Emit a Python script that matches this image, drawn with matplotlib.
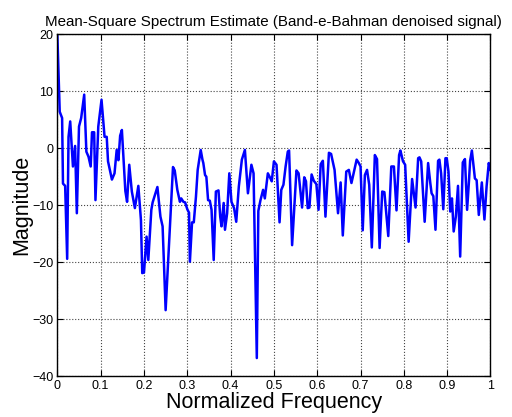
import matplotlib
matplotlib.use("Agg")
from matplotlib import pyplot as plt

plt.rcParams['font.family'] = ['Liberation Sans', 'DejaVu Sans']

# normalized frequency and magnitude
freq = [0.0, 0.0055, 0.011, 0.013, 0.018, 0.0227, 0.0258, 0.0297, 0.036, 0.041,
        0.045, 0.05, 0.055, 0.062, 0.067, 0.072, 0.077, 0.08, 0.085, 0.088,
        0.0945, 0.102, 0.109, 0.114, 0.117, 0.126, 0.132, 0.137, 0.141, 0.145,
        0.149, 0.157, 0.161, 0.166, 0.172, 0.179, 0.187, 0.193, 0.196, 0.2,
        0.206, 0.21, 0.217, 0.22, 0.231, 0.238, 0.243, 0.25, 0.267, 0.271,
        0.277, 0.283, 0.286, 0.291, 0.295, 0.3, 0.304, 0.306, 0.311, 0.315,
        0.32, 0.324, 0.331, 0.335, 0.337, 0.341, 0.344, 0.348, 0.352, 0.356,
        0.361, 0.366, 0.372, 0.376, 0.379, 0.384, 0.387, 0.392, 0.397, 0.402,
        0.408, 0.413, 0.419, 0.426, 0.433, 0.44, 0.448, 0.453, 0.4605, 0.464,
        0.469, 0.475, 0.479, 0.486, 0.492, 0.495, 0.5, 0.506, 0.513, 0.517,
        0.522, 0.527, 0.532, 0.535, 0.542, 0.552, 0.557, 0.565, 0.57, 0.574,
        0.578, 0.582, 0.587, 0.592, 0.598, 0.603, 0.608, 0.613, 0.619, 0.627,
        0.632, 0.64, 0.648, 0.654, 0.659, 0.667, 0.673, 0.679, 0.691, 0.696,
        0.7, 0.705, 0.71, 0.715, 0.72, 0.726, 0.733, 0.738, 0.744, 0.75,
        0.755, 0.764, 0.771, 0.777, 0.783, 0.789, 0.792, 0.798, 0.803, 0.811,
        0.819, 0.827, 0.833, 0.836, 0.84, 0.848, 0.856, 0.861, 0.864, 0.868,
        0.873, 0.879, 0.882, 0.886, 0.891, 0.896, 0.899, 0.903, 0.907, 0.911,
        0.915, 0.92, 0.925, 0.93, 0.936, 0.941, 0.946, 0.95, 0.953, 0.957,
        0.964, 0.968, 0.973, 0.98, 0.986, 0.991, 0.996, 1.0]
mag = [19.9, 6.4, 5.3, -6.2, -6.6, -19.4, 2.0, 4.7, -3.2, 0.4,
       -11.4, 3.8, 5.3, 9.4, -0.6, -1.5, -3.2, 2.8, 2.8, -9.1,
       3.8, 8.5, 2.0, 2.0, -2.3, -5.5, -4.4, -0.3, -2.1, 2.2,
       3.2, -7.5, -9.4, -2.9, -7.6, -10.5, -6.6, -12.6, -21.9, -21.8,
       -15.5, -19.6, -10.8, -9.5, -6.8, -12.0, -13.7, -28.4, -3.3, -3.9,
       -7.3, -9.4, -8.8, -9.4, -9.5, -10.7, -11.3, -19.9, -13.0, -13.0,
       -8.5, -3.8, -0.3, -2.0, -2.6, -4.7, -5.0, -9.1, -9.2, -10.8,
       -19.6, -7.6, -7.4, -12.0, -13.7, -9.6, -14.3, -11.4, -4.4, -9.4,
       -10.5, -12.9, -6.7, -2.0, -0.3, -7.9, -2.9, -4.4, -36.8, -11.0,
       -9.1, -7.3, -8.8, -4.4, -5.3, -5.8, -2.3, -2.9, -13.0, -7.3,
       -6.4, -3.2, -0.6, -0.4, -17.0, -3.9, -4.4, -10.4, -5.1, -5.8,
       -10.5, -10.4, -4.6, -5.7, -6.3, -10.8, -2.8, -2.2, -12.0, -0.8,
       -1.0, -3.8, -11.4, -6.0, -15.3, -4.1, -3.8, -6.1, -2.0, -2.6,
       -3.2, -14.4, -4.7, -3.8, -6.4, -17.4, -1.2, -1.9, -17.5, -7.6,
       -7.7, -15.4, -3.2, -3.2, -10.9, -1.2, -0.4, -2.3, -2.9, -16.4,
       -5.4, -10.4, -1.75, -1.6, -2.3, -12.9, -2.6, -6.1, -7.9, -8.4,
       -14.3, -2.2, -2.0, -4.4, -10.7, -1.75, -1.75, -4.1, -11.1, -8.8,
       -14.6, -12.0, -6.6, -19.0, -2.5, -1.9, -10.8, -6.1, -2.2, -0.4,
       -5.3, -5.6, -11.7, -6.0, -12.5, -6.7, -2.6, -3.8]

xticks = [0, 0.1, 0.2, 0.3, 0.4, 0.5, 0.6, 0.7, 0.8, 0.9, 1]
xtick_labels = ["0", "0.1", "0.2", "0.3", "0.4", "0.5", "0.6", "0.7", "0.8", "0.9", "1"]
yticks = [-40, -30, -20, -10, 0, 10, 20]

fig = plt.figure(figsize=(5.12, 4.17), dpi=100)
ax = fig.add_axes([0.112, 0.0976, 0.846, 0.8204])

ax.plot(freq, mag, color="#0000ff", linewidth=1.8)

ax.set_xlim(0, 1)
ax.set_ylim(-40, 20)
ax.set_xticks(xticks)
ax.set_xticklabels(xtick_labels)
ax.set_yticks(yticks)
ax.tick_params(direction="in", top=True, right=True, labelsize=9, length=4, pad=3)
ax.grid(True, linestyle=":", color="#444444", linewidth=0.8)
for s in ax.spines.values():
    s.set_linewidth(1.0)

ax.set_title("Mean-Square Spectrum Estimate (Band-e-Bahman denoised signal)", fontsize=10.9, pad=6)
ax.set_xlabel("Normalized Frequency", fontsize=15.5, labelpad=0)
ax.set_ylabel("Magnitude", fontsize=15.5, labelpad=0)

fig.savefig("out.png", dpi=100)
